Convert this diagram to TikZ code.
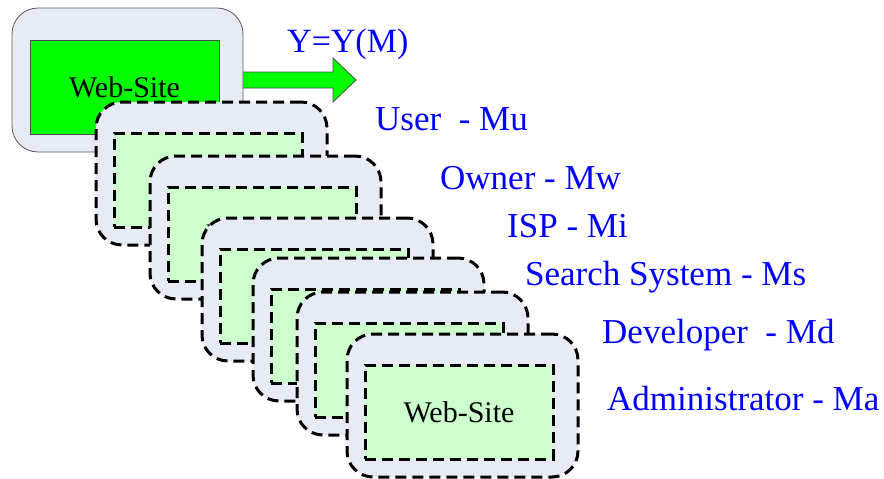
\documentclass[tikz,border=0pt]{standalone}
\usepackage{fontspec}
\setmainfont{Liberation Serif}
\usetikzlibrary{calc}
\definecolor{cardfill}{HTML}{E6EBF5}
\definecolor{sitefill}{HTML}{CCFFCC}
\definecolor{brightgreen}{HTML}{00FF00}
\definecolor{labelblue}{HTML}{0000FF}
\begin{document}
\begin{tikzpicture}[x=1pt,y=-1pt,
  card/.style={draw=#1, fill=cardfill, rounded corners=26pt,
    minimum width=231pt, minimum height=143pt, inner sep=0pt, outer sep=0pt,
    anchor=north west},
  dashcard/.style={card=black, line width=3pt, dash pattern=on 11pt off 6pt},
  sitebox/.style={fill=sitefill, draw=black, line width=3pt,
    dash pattern=on 11pt off 6pt, minimum width=188pt, minimum height=94pt,
    inner sep=0pt, outer sep=0pt, anchor=north west,
    font=\fontsize{30}{34}\selectfont},
  mainsite/.style={fill=brightgreen, draw=black!70, line width=0.8pt,
    minimum width=189pt, minimum height=94pt, inner sep=0pt, outer sep=0pt,
    anchor=north west, font=\fontsize{30}{34}\selectfont},
  role/.style={anchor=base west, inner sep=0pt, text=labelblue,
    font=\fontsize{35}{40}\selectfont},
  blockarrow/.style={fill=brightgreen, draw=black!70, line width=0.8pt}]
  \useasboundingbox (0,0) rectangle (884,479);

  % output arrow, its tail tucked under the main card
  \draw[blockarrow] (235,72) -- (333,72) -- (333,58) -- (356,80)
    -- (333,102) -- (333,88) -- (235,88) -- cycle;

  % main web-site card
  \node[card=black!65, line width=0.8pt, minimum height=144pt] (top) at (12,8) {};
  \node[mainsite] (topsite) at ($(top.north west)+(18,32)$) {Web-Site};

  % stacked role views of the web-site
  \foreach \n/\px/\py in {c1/96/102, c2/150/156, c3/202/218,
                          c4/253/258, c5/297/292, c6/347/334} {
    \node[dashcard] (\n) at (\px,\py) {};
    \node[sitebox] (\n site) at ($(\n.north west)+(18,31)$) {Web-Site};
  }

  % labels
  \node[role, font=\fontsize{34}{40}\selectfont] (ylab) at (287,52) {Y=Y(M)};
  \node[role] (mu) at (375,130) {User\ \ - Mu};
  \node[role] (mw) at (440,189) {Owner - Mw};
  \node[role] (mi) at (507,237) {ISP - Mi};
  \node[role] (ms) at (525,285) {Search System - Ms};
  \node[role] (md) at (602,343) {Developer\ \ - Md};
  \node[role] (ma) at (607,410) {Administrator - Ma};
\end{tikzpicture}
\end{document}
